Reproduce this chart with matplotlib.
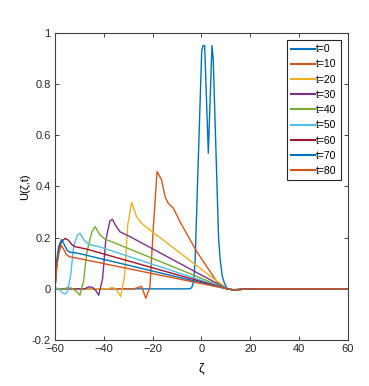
import matplotlib
matplotlib.use("Agg")
import matplotlib.pyplot as plt

plt.rcParams['font.family'] = ['Liberation Sans', 'DejaVu Sans']

# Data: profiles U(zeta, t)
labels = ["t=0", "t=10", "t=20", "t=30", "t=40", "t=50", "t=60", "t=70", "t=80"]
colors = ["#0072BD", "#D95319", "#EDB120", "#7E2F8E", "#77AC30",
          "#4DBEEE", "#A2142F", "#0072BD", "#D95319"]

z0 = [-60, -5, -4, -3.2, -2.6, 0.1, 0.6, 1.3, 2.8, 4.3, 4.8, 7.0, 7.6, 8.5, 9.5, 10.6, 13, 20, 60]
u0 = [0, 0, 0.004, 0.03, 0.11, 0.93, 0.95, 0.95, 0.53, 0.95, 0.9, 0.2, 0.12, 0.05, 0.02, 0.0, -0.003, 0, 0]

z10 = [-60, -28, -26.5, -24.6, -23.8, -22.8, -21.1, -19.7, -18.2, -16.3, -14.9, -13.6, -11.5, -8.8, -1.9, 6.3, 10.5, 13, 20, 60]
u10 = [0, 0, 0.003, 0.01, -0.01, -0.037, 0.008, 0.243, 0.458, 0.425, 0.36, 0.334, 0.315, 0.262, 0.145, 0.028, 0.0, -0.004, 0, 0]

z20 = [-60, -38, -37, -35.5, -34, -33.1, -31.5, -30.2, -28.6, -26.5, -24.5, -21.1, 10.5, 13, 20, 60]
u20 = [0, 0, 0.005, 0.003, -0.015, -0.03, 0.05, 0.25, 0.337, 0.28, 0.256, 0.23, 0.0, -0.004, 0, 0]

z30 = [-60, -48, -46, -44.5, -43, -42.1, -40.5, -39.2, -37.5, -36.5, -35.3, -33.4, -29.3, 10.5, 13, 20, 60]
u30 = [0, 0, 0.008, 0.005, -0.01, -0.025, 0.04, 0.19, 0.265, 0.272, 0.25, 0.223, 0.204, 0.0, -0.004, 0, 0]

z40 = [-60, -56, -55, -53, -51, -49.8, -48.3, -47, -45, -43.6, -41.5, -39.5, -37, 10.5, 13, 20, 60]
u40 = [0, 0, 0.005, 0.002, -0.012, -0.025, 0.03, 0.14, 0.22, 0.243, 0.21, 0.194, 0.185, 0.0, -0.004, 0, 0]

z50 = [-60, -58.5, -57, -55.9, -54.8, -53.5, -52.3, -50.8, -49.8, -48, -46.3, -42, 10.5, 13, 20, 60]
u50 = [0.005, 0.0, -0.015, -0.02, -0.01, 0.06, 0.17, 0.21, 0.217, 0.19, 0.174, 0.165, 0.0, -0.004, 0, 0]

z60 = [-60, -59.2, -58.3, -57.3, -55.9, -54.5, -53, -51.8, -47, 10.5, 13, 20, 60]
u60 = [0, 0.1, 0.16, 0.185, 0.197, 0.19, 0.172, 0.165, 0.155, 0.0, -0.004, 0, 0]

z70 = [-60, -59.3, -58.5, -57.3, -56.3, -55, -53.9, -51, 10.5, 13, 20, 60]
u70 = [0, 0.11, 0.165, 0.193, 0.175, 0.15, 0.143, 0.14, 0.0, -0.004, 0, 0]

z80 = [-60, -59.3, -58.5, -57.5, -56.5, -55.2, -54, -51, 10.5, 13, 20, 60]
u80 = [0, 0.08, 0.135, 0.171, 0.155, 0.133, 0.125, 0.12, 0.0, -0.004, 0, 0]

zs = [z0, z10, z20, z30, z40, z50, z60, z70, z80]
us = [u0, u10, u20, u30, u40, u50, u60, u70, u80]

# Plot
fig = plt.figure(figsize=(3.69, 3.86), dpi=100)
ax = fig.add_axes([0.149, 0.119, 0.794, 0.796])
for z, u, c, lab in zip(zs, us, colors, labels):
    ax.plot(z, u, color=c, lw=1.0, label=lab)

ax.set_xlim(-60, 60)
ax.set_ylim(-0.2, 1)
ax.set_xticks([-60, -40, -20, 0, 20, 40, 60])
ax.set_yticks([-0.2, 0, 0.2, 0.4, 0.6, 0.8, 1])
ax.set_yticklabels(["-0.2", "0", "0.2", "0.4", "0.6", "0.8", "1"])
ax.tick_params(direction='in', top=True, right=True, length=3, width=0.6,
               labelsize=8, colors='#262626', pad=3)
for s in ax.spines.values():
    s.set_color('#404040')
    s.set_linewidth(0.8)

# Decorate
ax.set_xlabel("ζ", fontsize=9, labelpad=6)
ax.set_ylabel("U(ζ,t)", fontsize=8, labelpad=1)
leg = ax.legend(loc='upper right', fontsize=7.5, handlelength=2.3, handletextpad=0.1,
                labelspacing=0.5, borderpad=0.4, fancybox=False, framealpha=1,
                borderaxespad=0.7)
leg.get_frame().set_edgecolor('#262626')
leg.get_frame().set_linewidth(0.8)
for line in leg.get_lines():
    line.set_linewidth(1.5)

fig.savefig("out.png", dpi=100)
